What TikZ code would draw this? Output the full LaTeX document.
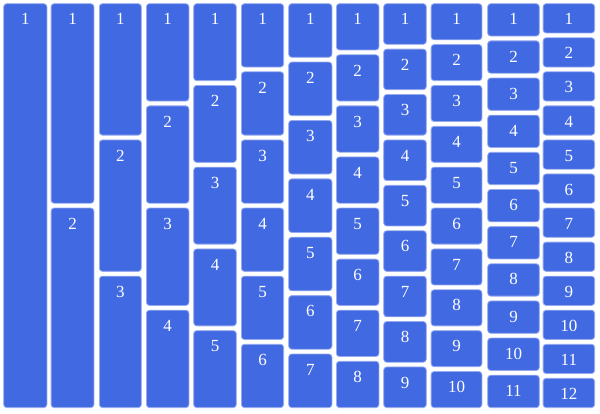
\documentclass[tikz,border=0pt]{standalone}
\usepackage{fontspec}
\setmainfont{Liberation Serif}
\definecolor{boxblue}{RGB}{65,105,225}
\definecolor{boxedge}{RGB}{150,170,240}
\begin{document}
\begin{tikzpicture}[x=1pt,y=-1pt,
  cell/.style={draw=boxedge, line width=0.8pt, fill=boxblue, rounded corners=3pt, inner sep=0pt, outer sep=0pt},
  num/.style={text=white, inner sep=0pt, font=\fontsize{17}{20}\selectfont}]
\useasboundingbox (0,0) rectangle (600,414);
\foreach \k/\l/\r in {1/3.3/47.3, 2/50.7/94.3, 3/99/141.7, 4/146/189.3, 5/193.3/236.7, 6/241/284, 7/288.3/332.3, 8/336/379.3, 9/383.3/426.7, 10/430.7/482.3, 11/487.3/539.7, 12/542.7/595}{
  \pgfmathsetmacro{\h}{(404.7-4*(\k-1))/\k}
  \pgfmathsetmacro{\w}{\r-\l-0.8}
  \pgfmathsetmacro{\cx}{(\l+\r)/2}
  \foreach \i in {1,...,\k}{
    \pgfmathsetmacro{\top}{3.3+(\i-1)*(\h+4)}
    \pgfmathsetmacro{\cy}{\top+\h/2}
    \pgfmathsetmacro{\ty}{\top+16}
    \node[cell, minimum width=\w pt, minimum height=\h pt-0.8pt] (b\k-\i) at (\cx,\cy) {};
    \node[num] (t\k-\i) at (\cx,\ty) {\i};
  }
}
\end{tikzpicture}
\end{document}
